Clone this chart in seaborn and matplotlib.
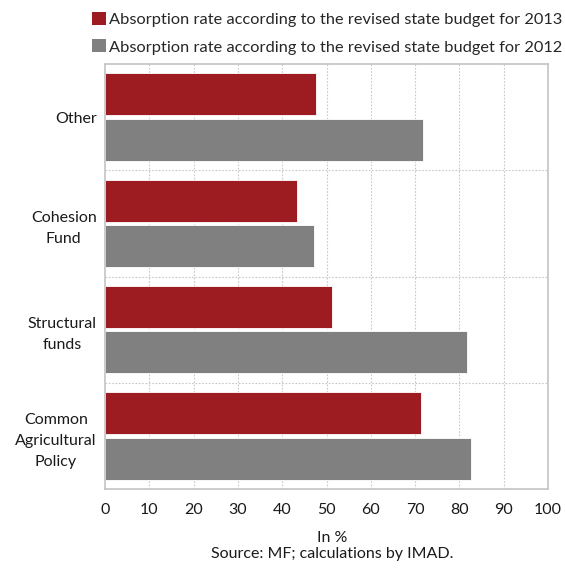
import matplotlib
matplotlib.use("Agg")
import matplotlib.pyplot as plt
from matplotlib.patches import Patch
import seaborn as sns
import pandas as pd

categories = ["Other", "Cohesion\nFund", "Structural\nfunds", "Common\nAgricultural\nPolicy"]
rate_2013 = [47.6, 43.3, 51.2, 71.3]
rate_2012 = [71.7, 47.2, 81.8, 82.7]
series = ["Absorption rate according to the revised state budget for 2013",
          "Absorption rate according to the revised state budget for 2012"]
colors = ["#9c1c22", "#808080"]
x_ticks = list(range(0, 101, 10))

sns.set_theme(style="white")
plt.rcParams["font.family"] = ["Lato", "DejaVu Sans"]
FS = 11.5
TXT = "#1a1a1a"

df = pd.DataFrame({
    "category": categories * 2,
    "value": rate_2013 + rate_2012,
    "series": [series[0]] * len(categories) + [series[1]] * len(categories),
})

fig = plt.figure(figsize=(5.65, 5.68), dpi=100)
ax = fig.add_axes([105 / 565, 1 - 489 / 568, 443 / 565, 425 / 568])

sns.barplot(data=df, x="value", y="category", hue="series", order=categories,
            hue_order=series, palette=colors, orient="h", width=0.86, gap=0.08,
            edgecolor="white", linewidth=0.6, saturation=1, legend=False, ax=ax)

ax.set_xlim(0, 100)
ax.set_ylim(3.5, -0.5)
ax.set_xticks(x_ticks)
ax.set_xticklabels([str(t) for t in x_ticks], fontsize=FS, color=TXT)
ax.set_yticks(range(len(categories)))
ax.set_yticklabels(categories, fontsize=FS, color=TXT, ha="right",
                   multialignment="center", linespacing=1.62)
ax.tick_params(axis="y", length=0, pad=6)
ax.tick_params(axis="x", length=0, pad=10)
ax.set_xlabel("")
ax.set_ylabel("")

# dotted vertical gridlines and group separators
for v in x_ticks[1:-1]:
    ax.axvline(v, color="#c8c8c8", linestyle=(0, (1.5, 1.5)), linewidth=0.8, zorder=0)
for b in [0.5, 1.5, 2.5]:
    ax.axhline(b, color="#c8c8c8", linestyle=(0, (1.5, 1.5)), linewidth=0.8, zorder=0)

for s in ax.spines.values():
    s.set_visible(True)
    s.set_color("#c4c4c4")
    s.set_linewidth(1.2)

handles = [Patch(facecolor=c, edgecolor="none") for c in colors]
fig.legend(handles, series, loc="upper left", bbox_to_anchor=(92 / 565, 1 - 12 / 568),
           frameon=False, fontsize=11.75, handlelength=0.85, handleheight=0.85,
           handletextpad=0.2, labelspacing=0.75, borderaxespad=0.0, borderpad=0.0)

cx = 332 / 565
fig.text(cx, 1 - 537.5 / 568, "In %", ha="center", va="center", fontsize=FS, color=TXT)
fig.text(cx, 1 - 554 / 568, "Source: MF; calculations by IMAD.",
         ha="center", va="center", fontsize=FS, color=TXT)

fig.savefig("out.png", dpi=100)
